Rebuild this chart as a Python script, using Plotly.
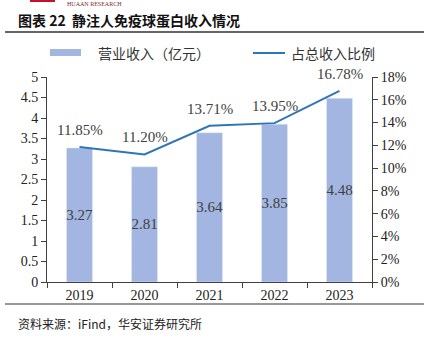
import plotly.graph_objects as go

years = ["2019", "2020", "2021", "2022", "2023"]
revenue = [3.27, 2.81, 3.64, 3.85, 4.48]
share = [11.85, 11.20, 13.71, 13.95, 16.78]
share_labels = ["11.85%", "11.20%", "13.71%", "13.95%", "16.78%"]
revenue_labels = ["3.27", "2.81", "3.64", "3.85", "4.48"]

W, H = 429, 342
L, R, T, B = 47, 372, 77, 282  # plot area in pixels

def px(x):
    return (x - L) / (R - L)

def py(y):
    return (B - y) / (B - T)

BAR = "#A3B6E1"
LINE = "#2E75B6"
SERIF = "Liberation Serif, Times New Roman, serif"
CJK = "Noto Sans CJK SC"
TXT = "#404040"

fig = go.Figure()
fig.add_trace(go.Bar(
    x=years, y=revenue, name="营业收入（亿元）", marker_color=BAR, width=0.4,
    text=revenue_labels, textposition="inside", insidetextanchor="middle",
    constraintext="none",
    textfont=dict(family=SERIF, size=15, color=TXT), textangle=0,
    showlegend=False,
))
fig.add_trace(go.Scatter(
    x=years, y=share, yaxis="y2", mode="lines", name="占总收入比例",
    line=dict(color=LINE, width=2), showlegend=False,
))

fig.update_layout(
    width=W, height=H, margin=dict(l=L, r=W - R, t=T, b=H - B),
    paper_bgcolor="white", plot_bgcolor="white",
    xaxis=dict(type="category", showline=True, linecolor="#404040", linewidth=1,
               ticks="outside", tickson="boundaries", ticklen=5, tickcolor="#404040",
               tickfont=dict(family=SERIF, size=14, color="#222"), showgrid=False,
               range=[-0.5, len(years) - 0.5]),
    yaxis=dict(range=[0, 5], dtick=0.5, showline=True, linecolor="#404040", linewidth=1,
               ticks="outside", ticklen=5, tickcolor="#404040", showgrid=False, zeroline=False,
               tickfont=dict(family=SERIF, size=14, color="#222")),
    yaxis2=dict(range=[0, 18], dtick=2, ticksuffix="%", overlaying="y", side="right",
                showline=True, linecolor="#404040", linewidth=1, ticks="outside", ticklen=5,
                tickcolor="#404040", showgrid=False, zeroline=False,
                tickfont=dict(family=SERIF, size=14, color="#222")),
    bargap=0.6, showlegend=False,
)

shapes = []
anns = []
# line data labels (category axis: position by category index)
for i, (v, lab) in enumerate(zip(share, share_labels)):
    anns.append(dict(text=lab, x=i, y=v, xref="x", yref="y2", showarrow=False,
                     yanchor="middle", yshift=17,
                     font=dict(family=SERIF, size=15, color=TXT)))
# header logo pieces (cut off at top in the original)
shapes.append(dict(type="rect", xref="paper", yref="paper", x0=px(30), x1=px(55), y0=py(2), y1=py(-2),
                   fillcolor="#C8102E", line_width=0))
anns.append(dict(text="HUAAN RESEARCH", xref="paper", yref="paper", x=px(66), y=py(0),
                 xanchor="left", yanchor="top", showarrow=False, borderpad=0,
                 font=dict(family=SERIF, size=6, color="#7a2b2b")))
# title
anns.append(dict(text="<b>图表 22  静注人免疫球蛋白收入情况</b>", xref="paper", yref="paper",
                 x=px(16), y=py(20), xanchor="left", yanchor="middle", showarrow=False,
                 font=dict(family=CJK, size=14, color="#111")))
shapes.append(dict(type="line", xref="paper", yref="paper", x0=px(5), x1=px(424), y0=py(32), y1=py(32),
                   line=dict(color="#333", width=1.5)))
# legend
shapes.append(dict(type="rect", xref="paper", yref="paper", x0=px(50), x1=px(81), y0=py(56), y1=py(49),
                   fillcolor=BAR, line_width=0))
anns.append(dict(text="营业收入（亿元）", xref="paper", yref="paper", x=px(96), y=py(53),
                 xanchor="left", yanchor="middle", showarrow=False,
                 font=dict(family=CJK, size=14, color="#333")))
shapes.append(dict(type="line", xref="paper", yref="paper", x0=px(253), x1=px(285), y0=py(53), y1=py(53),
                   line=dict(color=LINE, width=2)))
anns.append(dict(text="占总收入比例", xref="paper", yref="paper", x=px(289), y=py(53),
                 xanchor="left", yanchor="middle", showarrow=False,
                 font=dict(family=CJK, size=14, color="#333")))
# bottom rule and source
shapes.append(dict(type="line", xref="paper", yref="paper", x0=px(5), x1=px(424), y0=py(304), y1=py(304),
                   line=dict(color="#333", width=1.2)))
anns.append(dict(text="资料来源：iFind，华安证券研究所", xref="paper", yref="paper", x=px(16), y=py(323),
                 xanchor="left", yanchor="middle", showarrow=False,
                 font=dict(family=CJK, size=12, color="#222")))

fig.update_layout(shapes=shapes, annotations=anns)
fig.write_html("out.html")
